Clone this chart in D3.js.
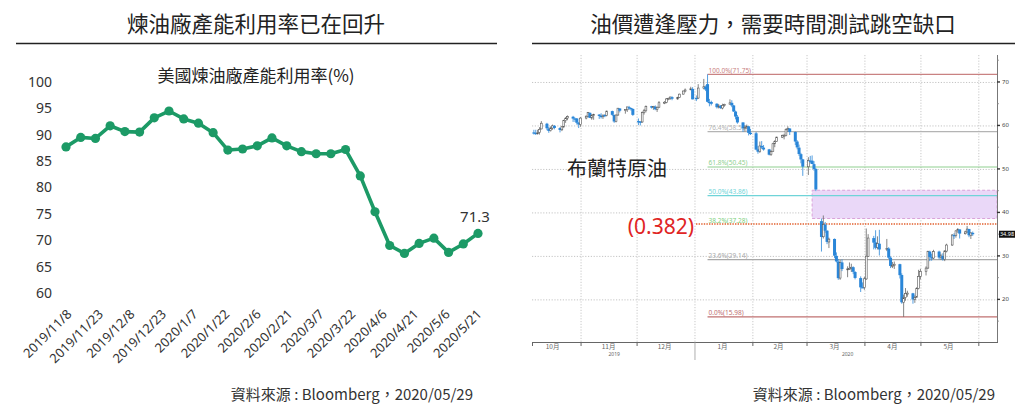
<!DOCTYPE html>
<html><head><meta charset="utf-8">
<script src="https://cdn.jsdelivr.net/npm/d3@7"></script>
<style>body{margin:0;background:#fff}svg{display:block}</style>
</head><body>
<svg id="c" width="1024" height="407"></svg>
<script>
// ---------- LEFT CHART DATA ----------
const leftTitle = "煉油廠產能利用率已在回升";
const leftSubtitle = "美國煉油廠產能利用率(%)";
const utilDates = ["2019-11-08","2019-11-15","2019-11-22","2019-11-29","2019-12-06","2019-12-13","2019-12-20","2019-12-27",
  "2020-01-03","2020-01-10","2020-01-17","2020-01-24","2020-01-31","2020-02-07","2020-02-14","2020-02-21","2020-02-28",
  "2020-03-06","2020-03-13","2020-03-20","2020-03-27","2020-04-03","2020-04-10","2020-04-17","2020-04-24",
  "2020-05-01","2020-05-08","2020-05-15","2020-05-22"];
const utilValues = [87.7,89.5,89.3,91.7,90.6,90.5,93.2,94.5,93.0,92.2,90.4,87.1,87.3,87.9,89.4,87.9,86.8,86.4,86.4,87.2,82.2,75.4,69.0,67.5,69.4,70.4,67.7,69.3,71.3];
const utilTickDates = ["2019-11-08","2019-11-23","2019-12-08","2019-12-23","2020-01-07","2020-01-22","2020-02-06","2020-02-21","2020-03-07","2020-03-22","2020-04-06","2020-04-21","2020-05-06","2020-05-21"];
const utilTickLabels = ["2019/11/8","2019/11/23","2019/12/8","2019/12/23","2020/1/7","2020/1/22","2020/2/6","2020/2/21","2020/3/7","2020/3/22","2020/4/6","2020/4/21","2020/5/6","2020/5/21"];
const utilYTicks = [60,65,70,75,80,85,90,95,100];
const sourceText = "資料來源 : Bloomberg，2020/05/29";

// ---------- RIGHT CHART DATA (Brent daily: [day, open, high, low, close]) ----------
const rightTitle = "油價遭逢壓力，需要時間測試跳空缺口";
const brentOct2019 = [[7,58.4,59.0,57.9,58.35],[8,58.3,59.0,57.8,58.24],[9,58.3,59.0,57.9,58.32],[10,58.4,59.6,57.9,59.10],[11,59.2,61.0,59.1,60.51],
  [14,60.4,60.6,58.9,59.35],[15,59.3,59.6,58.3,58.74],[16,58.8,59.8,58.6,59.42],[17,59.4,60.2,59.0,59.91],[18,59.9,60.1,59.1,59.42],
  [21,59.4,59.6,58.4,58.96],[22,59.0,59.9,58.7,59.70],[23,59.7,61.3,59.4,61.17],[24,61.1,61.9,60.6,61.67],[25,61.7,62.3,61.2,62.02],
  [28,62.0,62.2,60.8,61.57],[29,61.6,61.8,60.8,61.59],[30,61.6,61.7,60.2,60.61],[31,60.6,60.8,59.4,60.23]];
const brentNov2019 = [[1,60.2,61.9,59.7,61.69],[4,61.7,62.3,61.4,62.13],[5,62.1,63.1,61.9,62.96],[6,62.9,63.0,61.7,61.74],[7,61.7,62.6,61.3,62.29],
  [8,62.3,62.7,61.3,62.51],[11,62.5,62.6,61.5,62.18],[12,62.2,62.8,61.6,62.06],[13,62.0,62.5,61.5,62.37],[14,62.4,62.6,61.9,62.28],
  [15,62.3,63.4,62.1,63.30],[18,63.3,63.4,62.2,62.44],[19,62.4,62.5,60.6,60.91],[20,60.9,62.5,60.7,62.40],[21,62.4,64.0,62.2,63.97],
  [22,63.9,64.0,63.0,63.39],[25,63.4,63.7,62.7,63.65],[26,63.6,64.0,63.1,64.27],[27,64.2,64.5,63.6,64.06],[28,64.0,64.1,63.4,63.87],[29,63.8,63.9,62.2,62.43]];
const brentDec2019 = [[2,61.0,61.6,60.1,60.92],[3,60.9,61.0,60.0,60.82],[4,60.8,63.2,60.6,62.99],[5,63.0,63.8,62.5,63.39],[6,63.4,64.6,63.0,64.39],
  [9,64.4,64.5,63.9,64.25],[10,64.3,64.5,63.6,64.34],[11,64.3,64.6,63.5,63.72],[12,63.7,64.3,63.1,64.20],[13,64.2,65.6,64.0,65.22],
  [16,65.2,65.6,64.9,65.34],[17,65.3,66.3,65.1,66.10],[18,66.1,66.4,65.8,66.17],[19,66.2,66.6,65.9,66.54],[20,66.5,66.7,65.8,66.14],
  [23,66.1,66.6,65.9,66.39],[24,66.4,67.3,66.3,67.20],[26,67.2,68.0,67.1,67.92],[27,67.9,68.5,67.6,68.16],[30,68.2,68.9,68.1,68.44],[31,68.4,68.8,66.0,66.00]];
const brentJan2020 = [[2,66.3,66.9,65.6,66.25],[3,66.3,69.5,66.1,68.60],[6,68.6,70.7,68.3,68.91],[7,68.9,69.2,67.9,68.27],[8,69.5,71.75,65.3,65.44],
  [9,65.4,66.1,64.4,65.37],[10,65.4,65.7,64.6,64.98],[13,65.0,65.1,63.9,64.20],[14,64.2,64.9,63.9,64.49],[15,64.5,64.7,63.8,64.00],
  [16,64.0,65.0,63.7,64.62],[17,64.6,65.0,64.3,64.85],[20,64.9,66.0,64.8,65.20],[21,65.2,65.8,64.2,64.59],[22,64.6,64.7,63.1,63.21],
  [23,63.2,63.4,61.4,62.04],[24,62.0,62.4,60.4,60.69],[27,60.7,60.7,58.5,59.32],[28,59.3,60.0,58.6,59.51],[29,59.5,60.2,59.2,59.81],
  [30,59.8,59.9,57.7,58.29],[31,58.3,59.2,57.8,58.16]];
const brentFeb2020 = [[3,58.2,58.5,54.3,54.45],[4,54.5,55.3,53.5,53.96],[5,54.0,56.3,53.7,55.28],[6,55.3,56.4,54.6,54.93],[7,54.9,55.5,54.2,54.47],
  [10,54.5,54.6,53.1,53.27],[11,53.3,54.3,53.0,54.01],[12,54.0,56.0,53.9,55.79],[13,55.8,56.6,55.0,56.34],[14,56.3,57.4,56.2,57.32],
  [17,57.3,57.9,57.1,57.67],[18,57.7,58.1,56.8,57.75],[19,57.7,59.3,57.5,59.12],[20,59.1,59.8,58.5,59.31],[21,59.3,59.4,57.8,58.50],
  [24,58.5,58.6,55.5,56.30],[25,56.3,56.6,54.5,54.95],[26,54.9,55.6,53.0,53.43],[27,53.4,53.7,51.3,52.18],[28,52.2,52.3,48.4,50.52]];
const brentMar2020 = [[2,50.5,52.7,48.6,51.90],[3,51.9,53.0,51.3,51.86],[4,51.9,53.1,51.3,51.13],[5,51.1,51.8,49.6,49.99],[6,50.0,50.2,44.9,45.27],
  [9,38.0,38.6,31.0,34.36],[10,34.4,39.3,34.0,37.22],[11,37.2,37.8,35.3,35.79],[12,35.8,35.9,32.7,33.22],[13,33.2,34.2,31.8,33.85],
  [16,33.9,34.0,29.5,30.05],[17,30.0,30.8,28.5,28.73],[18,28.7,29.3,24.5,24.88],[19,24.9,29.1,24.5,28.47],[20,28.5,29.2,26.5,26.98],
  [23,27.0,27.6,25.1,27.03],[24,27.0,28.5,26.8,27.15],[25,27.2,28.2,26.3,27.39],[26,27.4,27.6,25.8,26.34],[27,26.3,26.5,24.6,24.93],
  [30,24.9,25.3,21.7,22.76],[31,22.8,23.9,22.6,22.74]];
const brentApr2020 = [[1,22.7,25.2,22.2,24.74],[2,24.7,36.3,24.5,29.94],[3,29.9,35.0,29.8,34.11],[6,34.1,34.6,31.5,33.05],[7,33.1,35.9,31.5,31.87],
  [8,31.9,34.5,31.5,32.84],[9,32.8,36.0,30.1,31.48],[13,31.5,33.9,31.1,31.74],[14,31.7,32.0,29.3,29.60],[15,29.6,29.9,27.2,27.69],
  [16,27.7,28.6,27.2,27.82],[17,27.8,28.7,27.0,28.08],[20,28.1,28.2,24.8,25.57],[21,25.6,26.0,19.0,19.33],[22,19.3,21.1,15.98,20.37],
  [23,20.4,22.6,19.7,21.33],[24,21.3,22.0,20.6,21.44],[27,21.4,21.5,19.0,19.99],[28,20.0,20.9,19.2,20.46],[29,20.5,22.8,20.4,22.54],[30,22.5,26.8,22.3,25.27]];
const brentMay2020 = [[1,25.3,27.0,24.6,26.44],[4,26.4,27.6,25.5,27.20],[5,27.2,31.2,27.0,30.97],[6,31.0,31.2,28.8,29.72],[7,29.7,30.5,28.9,29.46],
  [8,29.5,31.4,29.3,30.97],[11,31.0,31.2,29.2,29.63],[12,29.6,30.5,29.1,29.98],[13,30.0,30.6,28.9,29.19],[14,29.2,31.3,28.8,31.13],
  [15,31.1,32.8,30.8,32.50],[18,32.5,35.0,32.3,34.81],[19,34.8,35.2,33.9,34.65],[20,34.7,35.9,34.2,35.75],[21,35.8,36.4,35.3,36.06],
  [22,36.1,36.1,34.0,35.13],[25,35.1,35.8,34.9,35.53],[26,35.5,36.9,35.3,36.17],[27,36.2,36.2,34.3,34.74],[28,34.7,35.4,33.9,35.29],[29,35.3,35.6,34.6,34.98]];
const brentMonths = [[2019,10,brentOct2019],[2019,11,brentNov2019],[2019,12,brentDec2019],[2020,1,brentJan2020],
  [2020,2,brentFeb2020],[2020,3,brentMar2020],[2020,4,brentApr2020],[2020,5,brentMay2020]];
const lastPriceLabel = "34.98";

const fibHighDate = "2020-01-08";
const fibLabels = ["100.0%(71.75)","76.4%(58.59)","61.8%(50.45)","50.0%(43.86)","38.2%(37.28)","23.6%(29.14)","0.0%(15.98)"];
const fibValues = [71.75,58.59,50.45,43.86,37.28,29.14,15.98];
const gapBox = {start:"2020-03-04", top:45.1, bottom:38.6};
const retraceLabel = "(0.382)";
const retraceValue = 37.35;
const rightYTicks = [20,30,40,50,60,70];
const monthStarts = ["2019-11-01","2019-12-01","2020-01-01","2020-02-01","2020-03-01","2020-04-01","2020-05-01","2020-06-01"];
const monthLabelDates = ["2019-10-17","2019-11-16","2019-12-16","2020-01-16","2020-02-15","2020-03-16","2020-04-16","2020-05-16"];
const monthLabels = ["10月","11月","12月","1月","2月","3月","4月","5月"];
const yearLabelDates = ["2019-11-19","2020-03-23"];
const yearLabels = ["2019","2020"];
const seriesName = "布蘭特原油";

(function(){
// ---------- STYLES ----------
const fibColors = ["#c98282","#b4b4b4","#8fd08f","#6fd4d8","#7ccf7c","#a8a8a8","#c07070"];
const parse = d3.timeParse("%Y-%m-%d");
const svg = d3.select("#c");
const CJK = "'Noto Sans CJK TC','Noto Sans',sans-serif";
const NUM = "'Noto Sans','Open Sans',sans-serif";

// Left panel
svg.append("text").attr("x",256).attr("y",32).attr("text-anchor","middle")
  .style("font-family",CJK).style("font-size","21.5px").attr("fill","#222").text(leftTitle);
svg.append("line").attr("x1",16).attr("x2",497).attr("y1",43.5).attr("y2",43.5).attr("stroke","#222").attr("stroke-width",1.3);
svg.append("text").attr("x",256).attr("y",82).attr("text-anchor","middle")
  .style("font-family",CJK).style("font-size","17px").attr("fill","#222").text(leftSubtitle);

const lx = d3.scaleTime().domain([parse(utilDates[0]), parse(utilDates[utilDates.length-1])]).range([66,478]);
const ly = d3.scaleLinear().domain([60,100]).range([293,82]);

const lyAxis = d3.axisLeft(ly).tickValues(utilYTicks).tickSize(0).tickPadding(0);
const gly = svg.append("g").attr("transform","translate(52,0)").call(lyAxis);
gly.select(".domain").remove();
gly.selectAll("text").style("font-family",NUM).style("font-size","14px").attr("fill","#333");

const lxAxis = d3.axisBottom(lx).tickValues(utilTickDates.map(parse)).tickSize(0)
  .tickFormat((d,i)=>utilTickLabels[i]);
const glx = svg.append("g").attr("transform","translate(0,300)").call(lxAxis);
glx.select(".domain").remove();
glx.selectAll("text").style("font-family",NUM).style("font-size","13px").attr("fill","#333")
  .attr("text-anchor","end").attr("dy",0).attr("y",0)
  .attr("transform","translate(6,15) rotate(-45)");

const utilData = utilDates.map((d,i)=>({d:parse(d), v:utilValues[i]}));
const lineGreen = "#1c9a66";
svg.append("path").datum(utilData)
  .attr("d", d3.line().x(d=>lx(d.d)).y(d=>ly(d.v)))
  .attr("fill","none").attr("stroke",lineGreen).attr("stroke-width",3.6).attr("stroke-linejoin","round");
svg.selectAll(".utilpt").data(utilData).enter().append("circle")
  .attr("cx",d=>lx(d.d)).attr("cy",d=>ly(d.v)).attr("r",4.6).attr("fill",lineGreen);
const lastU = utilData[utilData.length-1];
svg.append("text").attr("x",lx(lastU.d)-3).attr("y",ly(lastU.v)-11).attr("text-anchor","middle")
  .style("font-family",NUM).style("font-size","15px").attr("fill","#333").text(lastU.v.toFixed(1));
svg.append("text").attr("x",473).attr("y",400).attr("text-anchor","end")
  .style("font-family",CJK).style("font-size","15px").attr("fill","#333").text(sourceText);

// Right panel
svg.append("text").attr("x",773).attr("y",32).attr("text-anchor","middle")
  .style("font-family",CJK).style("font-size","21.5px").attr("fill","#222").text(rightTitle);
svg.append("line").attr("x1",532).attr("x2",1015).attr("y1",43.5).attr("y2",43.5).attr("stroke","#222").attr("stroke-width",1.3);

const rx = d3.scaleTime().domain([new Date(2019,9,6), new Date(2020,5,11)]).range([532,997]);
const ry = d3.scaleLinear().domain([10.2,76.2]).range([342,55]);
const pTop = ry.range()[1], pBot = ry.range()[0], pLeft = rx.range()[0], pRight = rx.range()[1];

// gridlines
const grid = svg.append("g");
grid.selectAll(".hg").data(rightYTicks).enter().append("line")
  .attr("x1",pLeft).attr("x2",pRight).attr("y1",d=>ry(d)+0.5).attr("y2",d=>ry(d)+0.5)
  .attr("stroke","#c4c4c4").attr("stroke-width",1).attr("stroke-dasharray","1.2,1.6");
grid.selectAll(".vg").data(monthStarts.map(parse)).enter().append("line")
  .attr("x1",d=>rx(d)+0.5).attr("x2",d=>rx(d)+0.5).attr("y1",pTop).attr("y2",pBot)
  .attr("stroke","#c8c8c8").attr("stroke-width",1).attr("stroke-dasharray","1.2,1.6");

// gap box
svg.append("rect").attr("x",rx(parse(gapBox.start))).attr("y",ry(gapBox.top))
  .attr("width",pRight-rx(parse(gapBox.start))).attr("height",ry(gapBox.bottom)-ry(gapBox.top))
  .attr("fill","#ead8f8").attr("stroke","#d9a3d9").attr("stroke-width",1).attr("stroke-dasharray","3,2");

// fib lines
const fx = rx(parse(fibHighDate));
fibValues.forEach((v,i)=>{
  if(i!==4){
    svg.append("line").attr("x1",fx).attr("x2",pRight).attr("y1",ry(v)).attr("y2",ry(v))
      .attr("stroke",fibColors[i]).attr("stroke-width",1.1);
  }
  svg.append("text").attr("x",fx+1).attr("y",ry(v)-1.5)
    .style("font-family",NUM).style("font-size","6.5px").attr("fill",fibColors[i]).text(fibLabels[i]);
});
// 0.382 dotted marker line
svg.append("line").attr("x1",696).attr("x2",pRight).attr("y1",ry(retraceValue)).attr("y2",ry(retraceValue))
  .attr("stroke","#e2602e").attr("stroke-width",1.6).attr("stroke-dasharray","1.4,1.2");

// candles
const candles = [];
brentMonths.forEach(([yy,mm,rows])=>rows.forEach(r=>candles.push({d:new Date(yy,mm-1,r[0]),o:r[1],h:r[2],l:r[3],c:r[4]})));
const blue = "#2a86d8", dark = "#555";
const cg = svg.append("g");
candles.forEach(k=>{
  const down = k.c < k.o;
  const x = rx(k.d);
  cg.append("line").attr("x1",x).attr("x2",x).attr("y1",ry(k.h)).attr("y2",ry(k.l))
    .attr("stroke",down?blue:"#666").attr("stroke-width",0.8);
  const y1 = ry(Math.max(k.o,k.c)), y2 = ry(Math.min(k.o,k.c));
  if(down){
    cg.append("rect").attr("x",x-1.5).attr("y",y1).attr("width",3).attr("height",Math.max(1.2,y2-y1)).attr("fill",blue);
  } else {
    cg.append("rect").attr("x",x-0.9).attr("y",y1).attr("width",1.8).attr("height",Math.max(1,y2-y1))
      .attr("fill","#fff").attr("stroke",dark).attr("stroke-width",0.6);
  }
});

// right axis
const ra = svg.append("g");
ra.append("line").attr("x1",pRight+0.5).attr("x2",pRight+0.5).attr("y1",pTop).attr("y2",pBot).attr("stroke","#777").attr("stroke-width",1);
d3.range(15,76,5).forEach(v=>{
  ra.append("line").attr("x1",pRight).attr("x2",pRight+(v%10===0?3:2)).attr("y1",ry(v)).attr("y2",ry(v))
    .attr("stroke",v%10===0?"#333":"#888").attr("stroke-width",v%10===0?1.4:0.8);
});
ra.selectAll(".rl").data(rightYTicks).enter().append("text")
  .attr("x",pRight+5).attr("y",d=>ry(d)+2).style("font-family",NUM).style("font-size","6px").attr("fill","#444").text(d=>d);
// last price tag
const lastC = candles[candles.length-1];
ra.append("rect").attr("x",pRight+2).attr("y",ry(lastC.c)-3.5).attr("width",16).attr("height",7).attr("fill","#111");
ra.append("text").attr("x",pRight+10).attr("y",ry(lastC.c)+2).attr("text-anchor","middle")
  .style("font-family",NUM).style("font-size","5.5px").attr("fill","#fff").text(lastPriceLabel);

// bottom axis
const ba = svg.append("g");
ba.append("line").attr("x1",pLeft).attr("x2",pRight+1).attr("y1",pBot+0.5).attr("y2",pBot+0.5).attr("stroke","#666").attr("stroke-width",1);
monthStarts.map(parse).forEach((d,i)=>{
  const x = rx(d)+0.5;
  const isYear = d.getMonth()===0;
  ba.append("line").attr("x1",x).attr("x2",x).attr("y1",pBot).attr("y2",isYear?pBot+18:pBot+4)
    .attr("stroke",isYear?"#999":"#666").attr("stroke-width",isYear?0.8:1);
});
ba.append("line").attr("x1",pLeft+0.5).attr("x2",pLeft+0.5).attr("y1",pBot).attr("y2",pBot+4).attr("stroke","#666");
ba.selectAll(".ml").data(monthLabelDates).enter().append("text")
  .attr("x",d=>rx(parse(d))).attr("y",pBot+7).attr("text-anchor","middle")
  .style("font-family",CJK).style("font-size","6.5px").attr("fill","#666").text((d,i)=>monthLabels[i]);
ba.selectAll(".yl").data(yearLabelDates).enter().append("text")
  .attr("x",d=>rx(parse(d))).attr("y",pBot+14).attr("text-anchor","middle")
  .style("font-family",NUM).style("font-size","5px").attr("fill","#666").text((d,i)=>yearLabels[i]);

// annotations
svg.append("text").attr("x",567).attr("y",176)
  .style("font-family",CJK).style("font-size","20px").attr("fill","#222").text(seriesName);
svg.append("text").attr("x",694).attr("y",234).attr("text-anchor","end")
  .style("font-family",NUM).style("font-size","21px").attr("fill","#e02424").text(retraceLabel);

svg.append("text").attr("x",995).attr("y",400).attr("text-anchor","end")
  .style("font-family",CJK).style("font-size","15px").attr("fill","#333").text(sourceText);
})();
</script>
</body></html>
